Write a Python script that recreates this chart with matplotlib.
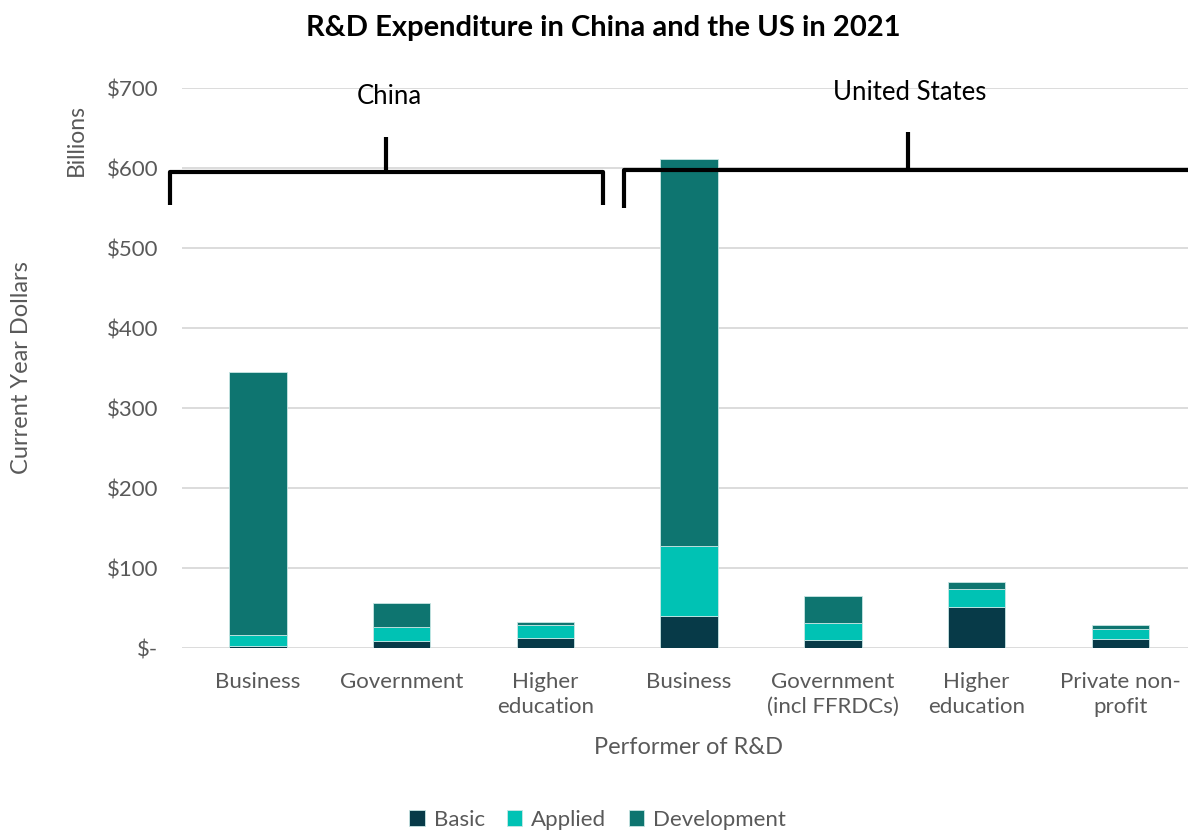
import numpy as np
import matplotlib
matplotlib.use('Agg')
import matplotlib.pyplot as plt
matplotlib.rcParams['font.family'] = ['Lato', 'DejaVu Sans']

categories = ['Business', 'Government', 'Higher\neducation',
              'Business', 'Government\n(incl FFRDCs)', 'Higher\neducation',
              'Private non-\nprofit']
basic = [3, 9, 13, 40, 10, 51, 12]
applied = [13, 18, 16, 88, 21, 23, 12]
development = [329, 30, 4, 483, 34, 9, 5]
series_names = ['Basic', 'Applied', 'Development']
colors = ['#073a48', '#00c2b4', '#0e7570']
y_ticks = [0, 100, 200, 300, 400, 500, 600, 700]
tick_labels = ['$-', '$100', '$200', '$300', '$400', '$500', '$600', '$700']

fig = plt.figure(figsize=(11.88, 8.32), dpi=100)
ax = fig.add_axes([0.153, 0.221, 0.853, 0.673])

x = np.arange(len(categories))
bottom = np.zeros(len(categories))
for vals, name, c in zip([basic, applied, development], series_names, colors):
    ax.bar(x, vals, width=0.4, bottom=bottom, color=c, label=name,
           edgecolor='#c8e6e4', linewidth=0.6, zorder=3)
    bottom += np.array(vals)

ax.set_xlim(-0.53, 6.52)
ax.set_ylim(0, 700)
ax.set_yticks(y_ticks)
ax.set_yticklabels(tick_labels)
ax.set_xticks(x)
ax.set_xticklabels(categories, linespacing=1.35)
ax.tick_params(axis='both', length=0, labelsize=16, labelcolor='#595959')
ax.tick_params(axis='x', pad=17)
ax.tick_params(axis='y', pad=17)
ax.grid(axis='y', color='#d9d9d9', linewidth=1.3, zorder=0)
for s in ax.spines.values():
    s.set_visible(False)

ax.set_xlabel('Performer of R&D', fontsize=17, color='#595959', labelpad=14)
fig.text(0.018, 0.558, 'Current Year Dollars', rotation=90, fontsize=17,
         color='#595959', ha='center', va='center')
fig.text(0.064, 0.832, 'Billions', rotation=90, fontsize=16.5,
         color='#595959', ha='center', va='center')

fig.suptitle('R&D Expenditure in China and the US in 2021', fontsize=21,
             fontweight='bold', x=0.508, y=0.982)

# group brackets (figure pixel coords converted to fraction)
W, H = 1188.0, 832.0
def fline(xs, ys):
    fig.add_artist(plt.Line2D([v / W for v in xs], [1 - v / H for v in ys],
                              color='black', linewidth=3, solid_capstyle='butt'))

fline([170, 170, 603, 603], [205, 172, 172, 205])
fline([386, 386], [137, 172])
fline([624, 624, 1200, 1200], [208, 170, 170, 170])
fline([908, 908], [132, 170])
fig.text(389 / W, 1 - 96 / H, 'China', fontsize=18.5, ha='center', va='center')
fig.text(910 / W, 1 - 92 / H, 'United States', fontsize=18.5, ha='center', va='center')

fig.legend(loc='center', bbox_to_anchor=(0.503, 0.015), ncol=3, frameon=False,
           fontsize=16, labelcolor='#595959', handlelength=0.7, handleheight=0.7,
           handletextpad=0.4, columnspacing=1.0)

fig.savefig('out.png', dpi=100)
